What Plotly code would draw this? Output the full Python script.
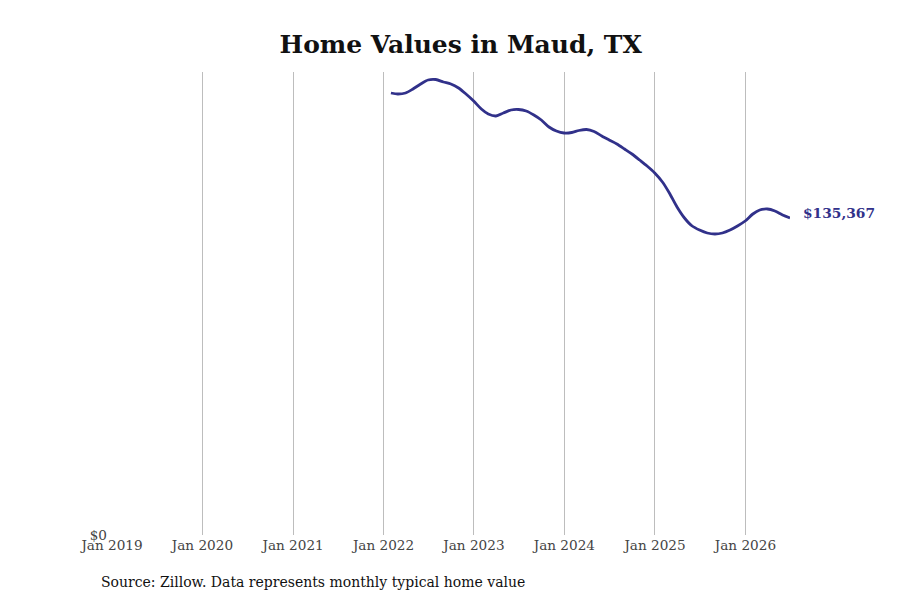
import pandas as pd
import plotly.graph_objects as go

# Типичная стоимость жилья (Zillow), конец месяца
dates = pd.date_range("2022-01-31", "2026-06-30", freq="ME")
values = [
    188734, 188307, 188734, 190442, 192577, 194285, 194499, 193431, 192577, 190869, 188307,
    185318, 181902, 179767, 178913, 180194, 181475, 181689, 181048, 179340, 177205, 174216, 172508,
    171654, 171868, 172722, 173149, 172295, 170373, 168665, 166957, 164822, 162687, 160125, 157563,
    154574, 150731, 146034, 140056, 135359, 131943, 130235, 128954, 128527, 128954, 130235, 131943,
    134078, 137067, 138775, 139202, 138348, 136640, 135367,
]

tick_dates = pd.date_range("2019-01-01", "2026-01-01", freq="YS")
tick_labels = [d.strftime("Jan %Y") for d in tick_dates]

line_color = "#31318a"
font_family = "DejaVu Serif"

fig = go.Figure()

fig.add_trace(go.Scatter(
    x=dates,
    y=values,
    mode="lines",
    line=dict(color=line_color, width=2.8, shape="spline", smoothing=0.8),
    hoverinfo="skip",
    showlegend=False,
))

# подпись последнего значения
fig.add_annotation(
    x=dates[-1], y=values[-1],
    text=f"<b>${values[-1]:,}</b>",
    showarrow=False,
    xanchor="left", yanchor="middle",
    xshift=11, yshift=5,
    font=dict(family=font_family, size=13.8, color=line_color),
)

# источник
fig.add_annotation(
    xref="paper", yref="paper", x=-0.0192, y=-0.1015,
    xanchor="left", yanchor="middle",
    text="Source: Zillow. Data represents monthly typical home value",
    showarrow=False,
    font=dict(family=font_family, size=14, color="#111"),
)

fig.update_layout(
    width=900, height=600,
    title=dict(
        text="<b>Home Values in Maud, TX</b>",
        x=0.503, xanchor="center", y=0.94, yanchor="middle",
        font=dict(family=font_family, size=25, color="#111"),
    ),
    margin=dict(l=104, r=118, t=64, b=73),
    plot_bgcolor="white",
    paper_bgcolor="white",
    font=dict(family=font_family, size=13.6, color="#444"),
    xaxis=dict(
        range=[pd.Timestamp("2019-01-01"), pd.Timestamp("2026-06-30")],
        tickvals=tick_dates,
        ticktext=tick_labels,
        showgrid=True,
        gridcolor="#bdbdbd",
        gridwidth=1,
        zeroline=False,
        showline=False,
        ticks="",
    ),
    yaxis=dict(
        range=[0, 197700],
        tickvals=[0],
        ticktext=["$0"],
        showgrid=False,
        zeroline=False,
        showline=False,
        ticks="",
        ticklabelstandoff=4,
    ),
)

fig.write_html("out.html")
